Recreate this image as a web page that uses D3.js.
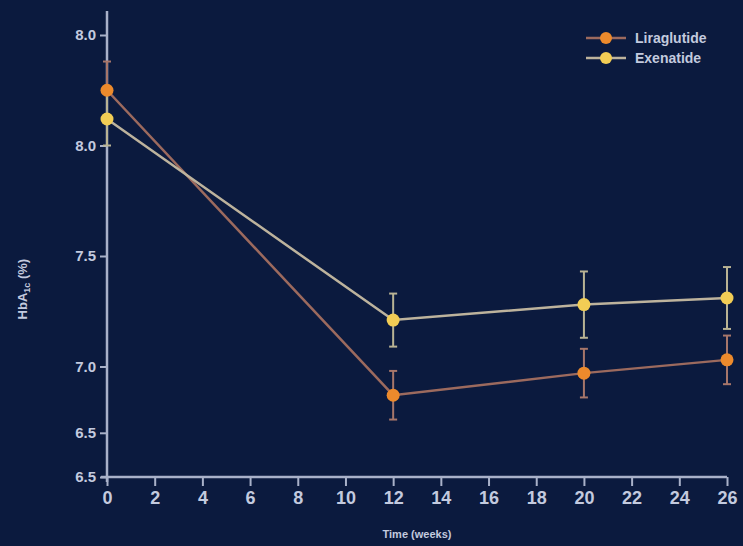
<!DOCTYPE html>
<html>
<head>
<meta charset="utf-8">
<script src="https://cdn.jsdelivr.net/npm/d3@7"></script>
<style>
  html, body { margin: 0; padding: 0; background: #0b1a3e; }
  svg { display: block; font-family: "Liberation Sans", Arial, sans-serif; }
</style>
</head>
<body>
<div id="chart"></div>
<script>
// data
const weeks = [0, 12, 20, 26];
const liraglutide = [8.25, 6.87, 6.97, 7.03];
const liraglutideErr = [0.13, 0.11, 0.11, 0.11];
const exenatide = [8.12, 7.21, 7.28, 7.31];
const exenatideErr = [0.12, 0.12, 0.15, 0.14];
const xTicks = d3.range(0, 27, 2);
const yTicks = [8.5, 8.0, 7.5, 7.0, 6.7, 6.5];
const yTickLabels = ['8.0', '8.0', '7.5', '7.0', '6.5', '6.5'];
const seriesNames = ['Liraglutide', 'Exenatide'];

const W = 743, H = 546;
const margin = {top: 35, right: 16, bottom: 69, left: 107};
const width = W - margin.left - margin.right,
    height = H - margin.top - margin.bottom;

const axisColor = '#a9b1c9';
const textColor = '#c3cadf';

const svg = d3.select('#chart').append('svg')
    .attr('width', W)
    .attr('height', H);

svg.append('rect').attr('width', W).attr('height', H).attr('fill', '#0b1a3e');

const g = svg.append('g')
    .attr('transform', 'translate(' + margin.left + ',' + margin.top + ')');

const x = d3.scaleLinear().domain([0, 26]).range([0, width]);
const y = d3.scaleLinear().domain([6.5, 8.5]).range([height, 0]);

// axes
const xAxis = d3.axisBottom(x).tickValues(xTicks).tickSize(9).tickPadding(5).tickSizeOuter(0);
const yAxis = d3.axisLeft(y).tickValues(yTicks).tickSize(7).tickPadding(4).tickSizeOuter(0)
    .tickFormat((d, i) => yTickLabels[i]);

const gx = g.append('g')
    .attr('transform', 'translate(0,' + height + ')')
    .call(xAxis);
gx.select('.domain').attr('stroke', axisColor).attr('stroke-width', 2.5)
    .attr('d', 'M-6,0H' + width);
gx.selectAll('.tick line').attr('stroke', axisColor).attr('stroke-width', 2);
gx.selectAll('.tick text')
    .attr('fill', textColor)
    .style('font-size', '18px')
    .style('font-weight', 'bold');

const gy = g.append('g').call(yAxis);
gy.select('.domain').attr('stroke', axisColor).attr('stroke-width', 2.5)
    .attr('d', 'M0,-24V' + (height + 5));
gy.selectAll('.tick line').attr('stroke', axisColor).attr('stroke-width', 2);
gy.selectAll('.tick text')
    .attr('fill', textColor)
    .style('font-size', '15px')
    .style('font-weight', 'bold');

// axis titles
svg.append('text')
    .attr('x', margin.left + x(13))
    .attr('y', 538)
    .attr('text-anchor', 'middle')
    .attr('fill', textColor)
    .style('font-size', '11px')
    .style('font-weight', 'bold')
    .text('Time (weeks)');

const yTitle = svg.append('text')
    .attr('transform', 'translate(27,' + (margin.top + y(7.35)) + ') rotate(-90)')
    .attr('text-anchor', 'middle')
    .attr('fill', textColor)
    .style('font-size', '13px')
    .style('font-weight', 'bold');
yTitle.append('tspan').text('HbA');
yTitle.append('tspan').attr('dy', 3).style('font-size', '9px').text('1c');
yTitle.append('tspan').attr('dy', -3).text(' (%)');

// series
const series = [
  {name: seriesNames[0], values: liraglutide, err: liraglutideErr, color: '#ec8a2c', line: '#9c6a5e', bar: '#a7766a'},
  {name: seriesNames[1], values: exenatide, err: exenatideErr, color: '#f2cd55', line: '#bdb39d', bar: '#b9b394'}
];

const line = d3.line()
    .x((d, i) => x(weeks[i]))
    .y(d => y(d));

series.forEach(s => {
  const eb = g.append('g');
  weeks.forEach((w, i) => {
    const cx = x(w), top = y(s.values[i] + s.err[i]), bot = y(s.values[i] - s.err[i]);
    eb.append('line').attr('x1', cx).attr('x2', cx).attr('y1', top).attr('y2', bot)
        .attr('stroke', s.bar).attr('stroke-width', 2);
    [top, bot].forEach(yy => {
      eb.append('line').attr('x1', cx - 4).attr('x2', cx + 4).attr('y1', yy).attr('y2', yy)
          .attr('stroke', s.bar).attr('stroke-width', 2);
    });
  });
});

series.forEach(s => {
  g.append('path')
      .datum(s.values)
      .attr('fill', 'none')
      .attr('stroke', s.line)
      .attr('stroke-width', 2.5)
      .attr('d', line);
});

series.forEach(s => {
  g.selectAll(null)
      .data(s.values)
      .enter().append('circle')
      .attr('cx', (d, i) => x(weeks[i]))
      .attr('cy', d => y(d))
      .attr('r', 6.5)
      .attr('fill', s.color);
});

// legend
const legend = svg.append('g').attr('transform', 'translate(586,38)');
series.forEach((s, i) => {
  const row = legend.append('g').attr('transform', 'translate(0,' + (i * 20) + ')');
  row.append('line').attr('x1', 0).attr('x2', 40).attr('y1', 0).attr('y2', 0)
      .attr('stroke', s.line).attr('stroke-width', 2.5);
  row.append('circle').attr('cx', 20).attr('cy', 0).attr('r', 6).attr('fill', s.color);
  row.append('text')
      .attr('x', 49)
      .attr('y', 5)
      .attr('fill', textColor)
      .style('font-size', '14px')
      .style('font-weight', 'bold')
      .text(s.name);
});
</script>
</body>
</html>
